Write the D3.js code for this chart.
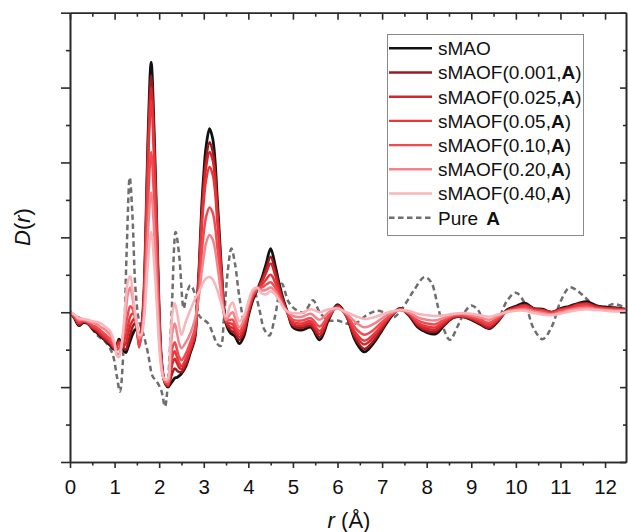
<!DOCTYPE html>
<html>
<head>
<meta charset="utf-8">
<script src="https://cdn.jsdelivr.net/npm/d3@7"></script>
<style>
  body { margin: 0; background: #fff; }
  svg { display: block; }
  text { font-family: "Liberation Sans", Arial, Helvetica, sans-serif; fill: #111; }
</style>
</head>
<body>
<svg id="chart" width="628" height="532"></svg>
<script>
// r grid (Å) shared by the sMAO / sMAOF series
const r = [
  0, 0.1, 0.2, 0.3, 0.4, 0.5, 0.6, 0.7, 0.8, 0.9,
  1.0, 1.05, 1.1, 1.15, 1.2, 1.25, 1.3, 1.35, 1.4, 1.45, 1.5, 1.55,
  1.6, 1.65, 1.7, 1.75, 1.82, 1.89, 1.95, 2.0, 2.05, 2.1, 2.15,
  2.2, 2.25, 2.3, 2.35, 2.4, 2.45, 2.5, 2.6, 2.7, 2.8, 2.85, 2.9, 2.95, 3.0, 3.05, 3.13, 3.2, 3.25, 3.3, 3.35, 3.4,
  3.5, 3.6, 3.65, 3.7, 3.8, 3.9, 4.0, 4.1, 4.2, 4.3, 4.4, 4.5, 4.6, 4.7, 4.8, 4.9,
  5.0, 5.2, 5.4, 5.6, 5.8, 6.0, 6.2, 6.4, 6.6, 6.8, 7.0, 7.2, 7.4, 7.6, 7.8,
  8.0, 8.2, 8.4, 8.6, 8.8, 9.0, 9.2, 9.4, 9.6, 9.8, 10.0, 10.2, 10.4, 10.6, 10.8,
  11.0, 11.2, 11.4, 11.6, 11.8, 12.0, 12.2, 12.45
];

const sMAO = [
  0, -0.08, -0.18, -0.14, -0.15, -0.22, -0.27, -0.33, -0.38, -0.44,
  -0.5, -0.44, -0.36, -0.43, -0.5, -0.54, -0.47, -0.38, -0.3, -0.24, -0.22, -0.38,
  -0.23, 0.15, 1.11, 2.34, 3.34, 2.37, 1.08, 0.02, -0.62, -0.88, -0.97,
  -1.0, -0.96, -0.92, -0.88, -0.87, -0.85, -0.82, -0.72, -0.54, -0.35, 0.1, 0.65, 1.36, 1.85, 2.2, 2.45, 2.32, 2.05, 1.55, 1.05, 0.55,
  -0.15, -0.28, -0.3, -0.32, -0.42, -0.32, -0.05, 0.16, 0.3, 0.45, 0.65, 0.85, 0.63, 0.36, 0.14, -0.04,
  -0.2, -0.24, -0.2, -0.37, -0.1, 0.1, -0.05, -0.38, -0.53, -0.42, -0.24, -0.06, 0.05, -0.04, -0.2,
  -0.27, -0.29, -0.17, -0.07, -0.06, -0.1, -0.16, -0.22, -0.12, 0.03, 0.08, 0.12, 0.05, 0.04, 0.0,
  0.05, 0.08, 0.12, 0.14, 0.09, 0.07, 0.06, 0.04
];

const sMAOF_0001 = [
  0, -0.07, -0.17, -0.13, -0.15, -0.21, -0.26, -0.32, -0.37, -0.42,
  -0.49, -0.44, -0.38, -0.42, -0.48, -0.5, -0.42, -0.3, -0.2, -0.15, -0.22, -0.42,
  -0.24, 0.12, 1.04, 2.21, 3.16, 2.23, 1.0, -0.02, -0.63, -0.88, -0.96,
  -0.99, -0.9, -0.8, -0.75, -0.78, -0.8, -0.8, -0.7, -0.52, -0.33, 0.08, 0.6, 1.26, 1.72, 2.04, 2.27, 2.15, 1.9, 1.44, 0.97, 0.5,
  -0.14, -0.24, -0.26, -0.28, -0.37, -0.27, -0.02, 0.18, 0.3, 0.42, 0.58, 0.74, 0.56, 0.32, 0.12, -0.04,
  -0.18, -0.21, -0.18, -0.33, -0.08, 0.09, -0.05, -0.35, -0.49, -0.39, -0.22, -0.05, 0.05, -0.03, -0.18,
  -0.25, -0.26, -0.16, -0.07, -0.06, -0.09, -0.15, -0.21, -0.11, 0.02, 0.07, 0.1, 0.05, 0.03, 0.0,
  0.04, 0.07, 0.11, 0.12, 0.08, 0.06, 0.05, 0.04
];

const sMAOF_0025 = [
  0, -0.07, -0.15, -0.12, -0.14, -0.2, -0.24, -0.3, -0.35, -0.41,
  -0.48, -0.45, -0.4, -0.42, -0.45, -0.42, -0.3, -0.18, -0.12, -0.08, -0.2, -0.45,
  -0.26, 0.1, 0.97, 2.09, 3.0, 2.11, 0.93, -0.05, -0.64, -0.88, -0.95,
  -0.98, -0.85, -0.68, -0.62, -0.68, -0.74, -0.76, -0.66, -0.5, -0.3, 0.07, 0.55, 1.18, 1.6, 1.93, 2.14, 2.03, 1.8, 1.36, 0.92, 0.47,
  -0.13, -0.2, -0.21, -0.25, -0.33, -0.23, 0.0, 0.2, 0.3, 0.4, 0.53, 0.65, 0.5, 0.28, 0.1, -0.04,
  -0.16, -0.18, -0.15, -0.29, -0.07, 0.08, -0.05, -0.31, -0.43, -0.34, -0.19, -0.04, 0.04, -0.02, -0.16,
  -0.22, -0.23, -0.14, -0.06, -0.05, -0.08, -0.14, -0.19, -0.1, 0.02, 0.06, 0.09, 0.04, 0.03, 0.0,
  0.04, 0.06, 0.1, 0.11, 0.07, 0.05, 0.05, 0.03
];

const sMAOF_005 = [
  0, -0.06, -0.14, -0.12, -0.14, -0.19, -0.22, -0.28, -0.33, -0.39,
  -0.47, -0.46, -0.42, -0.42, -0.4, -0.32, -0.18, -0.06, -0.02, -0.02, -0.18, -0.47,
  -0.27, 0.07, 0.9, 1.96, 2.83, 1.98, 0.85, -0.08, -0.65, -0.88, -0.95,
  -0.97, -0.78, -0.58, -0.52, -0.6, -0.68, -0.72, -0.62, -0.46, -0.28, 0.05, 0.5, 1.08, 1.48, 1.76, 1.94, 1.84, 1.63, 1.24, 0.84, 0.43,
  -0.12, -0.15, -0.16, -0.21, -0.29, -0.19, 0.03, 0.22, 0.3, 0.36, 0.44, 0.5, 0.4, 0.23, 0.08, -0.03,
  -0.13, -0.15, -0.12, -0.25, -0.06, 0.07, -0.04, -0.27, -0.38, -0.3, -0.17, -0.04, 0.04, -0.02, -0.14,
  -0.19, -0.2, -0.12, -0.05, -0.05, -0.07, -0.12, -0.17, -0.09, 0.01, 0.05, 0.08, 0.03, 0.02, -0.01,
  0.03, 0.05, 0.09, 0.1, 0.06, 0.05, 0.04, 0.03
];

const sMAOF_010 = [
  0, -0.05, -0.12, -0.11, -0.13, -0.17, -0.2, -0.25, -0.3, -0.36,
  -0.46, -0.5, -0.48, -0.42, -0.32, -0.18, -0.02, 0.08, 0.05, -0.05, -0.2, -0.45,
  -0.32, -0.05, 0.61, 1.45, 2.14, 1.46, 0.54, -0.22, -0.69, -0.89, -0.94,
  -0.95, -0.7, -0.47, -0.4, -0.5, -0.6, -0.64, -0.55, -0.4, -0.22, 0.03, 0.35, 0.76, 1.06, 1.27, 1.4, 1.33, 1.17, 0.89, 0.6, 0.3,
  -0.11, -0.1, -0.1, -0.16, -0.25, -0.15, 0.06, 0.24, 0.31, 0.33, 0.37, 0.4, 0.33, 0.2, 0.07, -0.02,
  -0.1, -0.11, -0.08, -0.19, -0.04, 0.06, -0.03, -0.21, -0.3, -0.24, -0.13, -0.03, 0.03, -0.01, -0.11,
  -0.15, -0.16, -0.1, -0.04, -0.04, -0.06, -0.1, -0.14, -0.07, 0.01, 0.04, 0.06, 0.02, 0.01, -0.02,
  0.02, 0.04, 0.07, 0.08, 0.05, 0.04, 0.03, 0.02
];

const sMAOF_020 = [
  0, -0.04, -0.1, -0.1, -0.12, -0.14, -0.16, -0.2, -0.24, -0.3,
  -0.44, -0.55, -0.56, -0.45, -0.25, 0.0, 0.25, 0.33, 0.2, 0.0, -0.18, -0.35,
  -0.3, -0.1, 0.41, 1.07, 1.6, 1.05, 0.3, -0.32, -0.72, -0.88, -0.92,
  -0.92, -0.55, -0.25, -0.15, -0.28, -0.42, -0.48, -0.4, -0.28, -0.1, 0.05, 0.25, 0.52, 0.74, 0.92, 1.03, 0.97, 0.85, 0.65, 0.43, 0.2,
  -0.1, -0.02, 0.0, -0.07, -0.2, -0.1, 0.1, 0.27, 0.32, 0.29, 0.3, 0.33, 0.28, 0.17, 0.06, 0.0,
  -0.05, -0.06, -0.02, -0.1, 0.0, 0.05, -0.02, -0.13, -0.2, -0.16, -0.08, -0.01, 0.03, 0.0, -0.07,
  -0.1, -0.11, -0.07, -0.03, -0.02, -0.04, -0.07, -0.1, -0.05, 0.01, 0.03, 0.04, 0.01, -0.01, -0.03,
  0.0, 0.03, 0.05, 0.06, 0.04, 0.03, 0.02, 0.02
];

const sMAOF_040 = [
  0, -0.03, -0.08, -0.09, -0.1, -0.12, -0.13, -0.15, -0.2, -0.25,
  -0.42, -0.58, -0.6, -0.48, -0.2, 0.15, 0.42, 0.48, 0.3, 0.05, -0.15, -0.3,
  -0.3, -0.15, 0.2, 0.68, 1.07, 0.64, 0.05, -0.45, -0.76, -0.88, -0.9,
  -0.88, -0.4, 0.0, 0.12, 0.0, -0.18, -0.3, -0.12, 0.03, 0.17, 0.23, 0.28, 0.35, 0.41, 0.45, 0.47, 0.44, 0.38, 0.3, 0.2, 0.1,
  -0.06, 0.1, 0.13, 0.05, -0.12, -0.05, 0.14, 0.3, 0.33, 0.25, 0.24, 0.28, 0.24, 0.15, 0.05, 0.0,
  -0.01, -0.01, 0.04, 0.0, 0.04, 0.05, 0.0, -0.05, -0.09, -0.07, -0.03, 0.01, 0.03, 0.02, -0.02,
  -0.04, -0.05, -0.04, -0.02, -0.01, -0.02, -0.04, -0.06, -0.03, 0.0, 0.02, 0.02, -0.01, -0.03, -0.04,
  -0.02, 0.01, 0.03, 0.04, 0.03, 0.02, 0.01, 0.01
];

// Pure A has its own r grid
const pureAr = [
  0, 0.2, 0.4, 0.6, 0.8, 0.95, 1.05, 1.12, 1.2, 1.27, 1.34, 1.4, 1.47, 1.55, 1.65, 1.75, 1.85, 1.95, 2.05, 2.13,
  2.2, 2.28, 2.37, 2.45, 2.55, 2.62, 2.7, 2.8, 2.9, 3.0, 3.1, 3.2, 3.3, 3.38, 3.45, 3.53, 3.62, 3.7, 3.8, 3.92,
  4.02, 4.12, 4.25, 4.35, 4.47, 4.6, 4.75, 4.9, 5.05, 5.25, 5.45, 5.6, 5.8, 6.0, 6.2, 6.4, 6.65, 6.9, 7.1, 7.25,
  7.45, 7.7, 7.95, 8.1, 8.25, 8.4, 8.52, 8.7, 8.85, 9.0, 9.15, 9.3, 9.45, 9.6, 9.8, 10.0, 10.2, 10.4, 10.6, 10.8,
  11.0, 11.2, 11.35, 11.55, 11.75, 11.95, 12.2, 12.45
];
const pureA = [
  0, -0.07, -0.15, -0.3, -0.4, -0.55, -0.85, -1.06, -0.5, 0.8, 1.8, 1.3, 0.3, -0.12, -0.3, -0.55, -0.85, -0.93, -1.05, -1.26,
  -0.9, 0.0, 1.07, 0.75, 0.05, 0.25, 0.36, 0.25, -0.05, -0.1, -0.15, -0.28, -0.42, -0.45, -0.1, 0.5, 0.85, 0.65, 0.2, -0.15,
  0.15, 0.29, 0.03, -0.22, -0.31, -0.05, 0.38, 0.14, 0.04, 0.0, 0.16, 0.0, -0.11, -0.11, -0.15, -0.15, -0.04, 0.02, -0.02, -0.07,
  0.05, 0.28, 0.47, 0.4, 0.08, -0.25, -0.37, -0.18, 0.0, 0.09, 0.03, -0.15, -0.18, -0.1, 0.15, 0.26, 0.12, -0.22, -0.36, -0.2,
  0.14, 0.33, 0.3, 0.2, 0.09, 0.06, 0.11, 0.06
];

const labels = ["sMAO", "sMAOF(0.001,", "sMAOF(0.025,", "sMAOF(0.05,", "sMAOF(0.10,", "sMAOF(0.20,", "sMAOF(0.40,"];
const colors = ["#111111", "#9c1b20", "#d6262b", "#e8363a", "#f14b51", "#f4848b", "#f8b5ba"];
const pureColor = "#6e6e6e";
const xTicks = [0, 1, 2, 3, 4, 5, 6, 7, 8, 9, 10, 11, 12];
const yTicks = [-2, -1, 0, 1, 2, 3, 4];

const series = [sMAO, sMAOF_0001, sMAOF_0025, sMAOF_005, sMAOF_010, sMAOF_020, sMAOF_040];

const svg = d3.select("#chart");
const plotLeft = 70, plotRight = 626, plotTop = 12.7, plotBottom = 462;
const x = d3.scaleLinear().domain([0, 12.47]).range([plotLeft, plotRight]);
const y = d3.scaleLinear().domain([-2, 4]).range([plotBottom, plotTop]);

const axisColor = "#2b2b2b";

// curves
const line = d3.line()
  .x(d => x(d[0]))
  .y(d => y(d[1]))
  .curve(d3.curveCatmullRom.alpha(0.5));

const plot = svg.append("g");
plot.append("path")
  .attr("d", line(pureAr.map((v, i) => [v, pureA[i]])))
  .attr("fill", "none")
  .attr("stroke", pureColor)
  .attr("stroke-width", 2.5)
  .attr("stroke-dasharray", "5.5,3.5");

series.forEach((vals, k) => {
  plot.append("path")
    .attr("d", line(r.map((v, i) => [v, vals[i]])))
    .attr("fill", "none")
    .attr("stroke", colors[k])
    .attr("stroke-width", k === 0 ? 2.8 : 2.5)
    .attr("stroke-linejoin", "round");
});

// axes
function styleAxis(g) {
  g.select(".domain").attr("stroke", axisColor).attr("stroke-width", 1.6);
  g.selectAll(".tick line").attr("stroke", axisColor).attr("stroke-width", 1.6);
}
const halfX = d3.range(0.5, 12.47, 1);
const halfY = d3.range(-1.5, 4, 1);

// bottom
const gb = svg.append("g").attr("transform", `translate(0,${plotBottom})`)
  .call(d3.axisBottom(x).tickValues(xTicks).tickSize(6).tickSizeOuter(0).tickPadding(11).tickFormat(d3.format("d")));
styleAxis(gb);
gb.selectAll(".tick text").attr("font-size", 20.5).attr("fill", "#111")
  .attr("font-family", "'Liberation Sans', Arial, sans-serif");
const gbm = svg.append("g").attr("transform", `translate(0,${plotBottom})`)
  .call(d3.axisBottom(x).tickValues(halfX).tickSize(3.5).tickSizeOuter(0).tickFormat(""));
styleAxis(gbm);

// top (ticks pointing inward)
const gt = svg.append("g").attr("transform", `translate(0,${plotTop})`)
  .call(d3.axisTop(x).tickValues(xTicks).tickSize(-7).tickSizeOuter(0).tickFormat(""));
styleAxis(gt);
const gtm = svg.append("g").attr("transform", `translate(0,${plotTop})`)
  .call(d3.axisTop(x).tickValues(halfX).tickSize(-4).tickSizeOuter(0).tickFormat(""));
styleAxis(gtm);

// left (ticks outward, no labels)
const gl = svg.append("g").attr("transform", `translate(${plotLeft},0)`)
  .call(d3.axisLeft(y).tickValues(yTicks).tickSize(9).tickSizeOuter(0).tickFormat(""));
styleAxis(gl);
const glm = svg.append("g").attr("transform", `translate(${plotLeft},0)`)
  .call(d3.axisLeft(y).tickValues(halfY).tickSize(4).tickSizeOuter(0).tickFormat(""));
styleAxis(glm);

// right (ticks inward)
const gr = svg.append("g").attr("transform", `translate(${plotRight},0)`)
  .call(d3.axisRight(y).tickValues(yTicks).tickSize(-6).tickSizeOuter(0).tickFormat(""));
styleAxis(gr);
const grm = svg.append("g").attr("transform", `translate(${plotRight},0)`)
  .call(d3.axisRight(y).tickValues(halfY).tickSize(-3).tickSizeOuter(0).tickFormat(""));
styleAxis(grm);

// axis titles
const xt = svg.append("text").attr("x", 349).attr("y", 528)
  .attr("text-anchor", "middle").attr("font-size", 22);
xt.append("tspan").attr("font-style", "italic").text("r");
xt.append("tspan").text(" (Å)");

const yt = svg.append("text")
  .attr("transform", "translate(30,227) rotate(-90)")
  .attr("text-anchor", "middle").attr("font-size", 22);
yt.append("tspan").attr("font-style", "italic").text("D");
yt.append("tspan").text("(");
yt.append("tspan").attr("font-style", "italic").text("r");
yt.append("tspan").text(")");

// legend
const lg = svg.append("g");
lg.append("rect")
  .attr("x", 387.5).attr("y", 34.5).attr("width", 196).attr("height", 201)
  .attr("fill", "#fff").attr("stroke", "#8a8a8a").attr("stroke-width", 1);
const rowY = i => 48.3 + i * 24.2;
labels.forEach((lab, i) => {
  lg.append("line")
    .attr("x1", 389).attr("x2", 432).attr("y1", rowY(i)).attr("y2", rowY(i))
    .attr("stroke", colors[i]).attr("stroke-width", 2.4);
  const t = lg.append("text").attr("x", 438).attr("y", rowY(i) + 6.8).attr("font-size", 19);
  t.append("tspan").text(lab);
  if (i > 0) {
    t.append("tspan").attr("font-weight", "bold").text("A");
    t.append("tspan").text(")");
  }
});
lg.append("line")
  .attr("x1", 389).attr("x2", 432).attr("y1", rowY(7)).attr("y2", rowY(7))
  .attr("stroke", pureColor).attr("stroke-width", 2.4).attr("stroke-dasharray", "5.5,3.5");
const pt = lg.append("text").attr("x", 438).attr("y", rowY(7) + 6.8).attr("font-size", 19);
pt.append("tspan").text("Pure");
pt.append("tspan").attr("dx", 8).attr("font-weight", "bold").text("A");
</script>
</body>
</html>
